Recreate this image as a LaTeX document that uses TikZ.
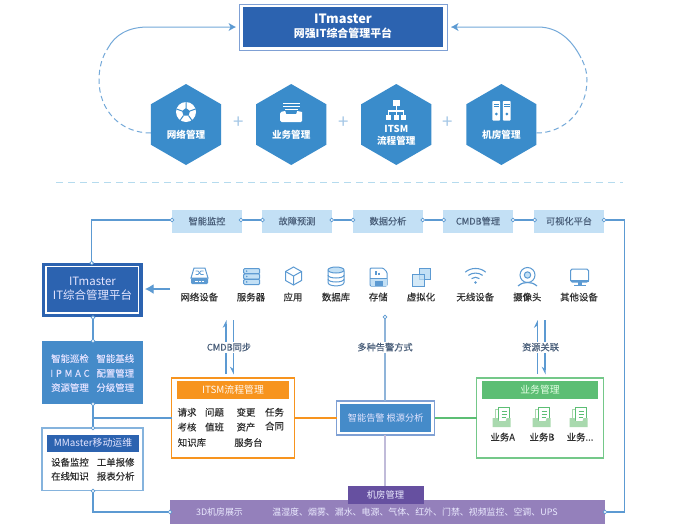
\documentclass[tikz,border=0pt]{standalone}
\usepackage{fontspec}
\setmainfont{Noto Sans CJK SC}
\newfontfamily\medfont[FakeBold=0.2]{Noto Sans CJK SC}
\usetikzlibrary{arrows.meta,shapes.geometric}
\definecolor{deepblue}{HTML}{2C63B0}
\definecolor{midblue}{HTML}{3A8CCB}
\definecolor{boxblue}{HTML}{458BC9}
\definecolor{linkblue}{HTML}{5C9AD2}
\definecolor{softblue}{HTML}{C3E0F5}
\definecolor{dashblue}{HTML}{B5DBEE}
\definecolor{framelight}{HTML}{7FA0D4}
\definecolor{orangeC}{HTML}{F7941E}
\definecolor{greenC}{HTML}{5CBE74}
\definecolor{greenL}{HTML}{A9D9AE}
\definecolor{purpleL}{HTML}{9480BB}
\definecolor{purpleD}{HTML}{6650A0}
\definecolor{lavLine}{HTML}{C0BBD9}
\definecolor{alertLine}{HTML}{8FB4D9}
\definecolor{slateT}{HTML}{4A5F7A}
\definecolor{darkT}{HTML}{2E2E2E}
\tikzset{
  x=0.75pt,y=-0.75pt,
  rbox/.style={rectangle,inner sep=0pt,outer sep=0pt},
  hexa/.style={regular polygon,regular polygon sides=6,shape border rotate=30,minimum size=60.75pt,fill=midblue,inner sep=0pt,outer sep=0pt},
  band/.style={rbox,fill=softblue,minimum width=52.5pt,minimum height=17.25pt,text=slateT,text height=5.6pt,text depth=0.9pt,font=\fontsize{6.9}{8}\medfont},
  hexlabel/.style={text=white,font=\fontsize{7.2}{9}\selectfont\bfseries,align=center,inner sep=0pt},
  devlabel/.style={text=darkT,text height=5.6pt,text depth=0.9pt,font=\fontsize{7.05}{8}\medfont,inner sep=0pt},
  whitelabel/.style={text=white!88!blue,text height=5.6pt,text depth=0.9pt,font=\fontsize{7.05}{8}\medfont,inner sep=0pt},
  edgelabel/.style={text=slateT,text height=5.6pt,text depth=0.9pt,font=\fontsize{6.9}{8}\medfont,fill=white,inner sep=1pt},
  link/.style={draw=linkblue,line width=0.9pt},
  dotc/.style={circle,draw=linkblue,fill=white,line width=0.6pt,minimum size=2.8pt,inner sep=0pt,outer sep=0pt},
  arcline/.style={draw=linkblue!85,line width=0.75pt},
  plusm/.style={text=linkblue!55,font=\fontsize{14}{14}\selectfont,inner sep=0pt},
  harpup/.style={draw=linkblue,line width=0.8pt,-{Stealth[harpoon,length=5pt,width=5pt]}},
  harpdn/.style={draw=linkblue,line width=0.8pt,-{Stealth[harpoon,swap,length=5pt,width=5pt]}},
  ic/.style={draw=linkblue,line width=0.75pt,fill=white},
}
\newcommand{\bizicon}[1]{%
  \begin{scope}[shift={(#1,418)}]
    \draw[draw=greenL,fill=white,line width=0.7pt] (-6,-9) rectangle (6,5);
    \draw[draw=greenC,fill=white,line width=0.7pt] (-3,-11) rectangle (8,5);
    \draw[draw=greenC,line width=0.7pt] (0,-7) -- (5,-7) (0,-4) -- (5,-4) (0,-1) -- (4,-1);
    \fill[greenL] (-9,0) -- (-4,0) -- (-3,3) -- (4,3) -- (5,0) -- (9,0) -- (9,9) -- (-9,9) -- cycle;
  \end{scope}}
\begin{document}
\begin{tikzpicture}
\useasboundingbox (0,0) rectangle (681,525);
\fill[white] (0,0) rectangle (681,525);

% ---------- top part ----------
\node[rbox,draw=framelight,line width=0.7pt,fill=white,minimum width=156pt,minimum height=34.5pt] (topouter) at (343.3,27) {};
\node[rbox,fill=deepblue,minimum width=150.5pt,minimum height=30.2pt] (topinner) at (343,26.9) {};
\node[text=white,font=\fontsize{8.2}{10.5}\selectfont\bfseries,align=center,inner sep=0pt] (toptext) at (343,26) {{\fontsize{9.6}{11}\selectfont ITmaster}\\网强IT综合管理平台};

\node[hexa] (hexA) at (186,124.5) {};
\node[hexa] (hexB) at (291.2,124.5) {};
\node[hexa] (hexC) at (396.3,124.5) {};
\node[hexa] (hexD) at (501.4,124.5) {};
\node[plusm] (plusA) at (238.7,123) {+};
\node[plusm] (plusB) at (344,123) {+};
\node[plusm] (plusC) at (447.7,123) {+};
\node[hexlabel] (hexAt) at (186,134.5) {网络管理};
\node[hexlabel] (hexBt) at (291.2,134.5) {业务管理};
\node[hexlabel] (hexCt) at (396.3,135.5) {ITSM\\流程管理};
\node[hexlabel] (hexDt) at (501.4,134.5) {机房管理};

\coordinate (lstart) at (hexA.west |- 0,133);
\coordinate (lmid) at (99,80);
\coordinate (lbreak) at (108,48);
\coordinate (ltop) at (148,27);
\draw[arcline,dashed,dash pattern=on 4pt off 2.6pt] (lstart) .. controls (120,133) and (99,110) .. (lmid) .. controls (99,68) and (102,57) .. (lbreak);
\draw[arcline] (lbreak) .. controls (115,35) and (128,27) .. (ltop) -- ([xshift=-3pt]topouter.west);
\fill[linkblue] (235.5,27) -- (228.5,23) -- (230.5,27) -- (228.5,31) -- cycle;
\coordinate (rstart) at (hexD.east |- 0,133);
\coordinate (rmid) at (587,80);
\coordinate (rbreak) at (581,58);
\coordinate (rtop) at (538,27);
\draw[arcline,dashed,dash pattern=on 4pt off 2.6pt] (rstart) .. controls (565,133) and (587,110) .. (rmid) .. controls (587,72) and (585,65) .. (rbreak);
\draw[arcline] (rbreak) .. controls (572,40) and (558,27) .. (rtop) -- ([xshift=3pt]topouter.east);
\fill[linkblue] (451.5,27) -- (458.5,23) -- (456.5,27) -- (458.5,31) -- cycle;

% hexagon icons
\begin{scope}[shift={(186,112)}]
  \fill[white] (0,0) circle (10);
  \fill[midblue] (0,-4) -- (4,-1) -- (2.5,3.5) -- (-2.5,3.5) -- (-4,-1) -- cycle;
  \draw[midblue,line width=0.75pt] (0,-4) -- (0,-10) (4,-1) -- (9.5,-3) (2.5,3.5) -- (6,8.5) (-2.5,3.5) -- (-6,8.5) (-4,-1) -- (-9.5,-3);
\end{scope}
\begin{scope}[shift={(291.2,112)}]
  \fill[white] (-8.5,-9.5) rectangle (8.5,-8);
  \fill[white] (-8.5,-6.5) rectangle (8.5,-5);
  \fill[white] (-6.5,-3.5) rectangle (6.5,-2);
  \fill[white] (-11,0) -- (-6,-1) -- (-5,2) -- (5,2) -- (6,-1) -- (11,0) -- (11,9) [rounded corners=1pt] -- (11,10) -- (-11,10) -- cycle;
\end{scope}
\begin{scope}[shift={(396.3,110)}]
  \fill[white] (-3.5,-10) rectangle (3.5,-4);
  \draw[white,line width=0.8pt] (0,-4) -- (0,1) (-7.5,5) -- (-7.5,1) -- (7.5,1) -- (7.5,5) (0,1) -- (0,5);
  \fill[white] (-10,5) rectangle (-5,9.5);
  \fill[white] (-2.7,5) rectangle (2.7,9.5);
  \fill[white] (5,5) rectangle (10,9.5);
\end{scope}
\begin{scope}[shift={(501.4,111)}]
  \foreach \xo in {-9,1.5}{
    \fill[white,rounded corners=0.6pt] (\xo,-10) rectangle ++(7.8,19.5);
    \fill[midblue] (\xo+1.2,-7.5) rectangle ++(5.4,0.9);
    \fill[midblue] (\xo+1.2,-4.8) rectangle ++(5.4,0.9);
    \fill[midblue] (\xo+3.9,3) circle (1.5);
  }
\end{scope}

\draw[draw=dashblue,line width=0.75pt,dash pattern=on 5.5pt off 3.5pt] (56,182) -- (623,182);

% ---------- boxes of the lower part ----------
\node[rbox,fill=deepblue,minimum width=75.75pt,minimum height=40.5pt] (itm) at (92.5,290) {};
\node[rbox,fill=boxblue,minimum width=75.75pt,minimum height=47.25pt] (feat) at (92.5,372.5) {};
\node[rbox,draw=linkblue!75,line width=0.8pt,fill=white,minimum width=75.75pt,minimum height=47pt] (mm) at (92.5,459.3) {};
\node[rbox,draw=orangeC,line width=0.9pt,fill=white,minimum width=92pt,minimum height=60pt] (itsm) at (233,418) {};
\node[rbox,draw=greenC!85,line width=0.9pt,fill=white,minimum width=95pt,minimum height=60pt] (biz) at (540,418) {};
\node[rbox,draw=framelight,line width=0.8pt,fill=white,minimum width=73.5pt,minimum height=25.5pt] (alertO) at (385.7,418) {};
\node[rbox,fill=boxblue,minimum width=68.25pt,minimum height=21pt] (alertI) at (385.7,418) {};
\node[rbox,fill=purpleL,minimum width=326.25pt,minimum height=18pt] (room) at (387.5,512) {};
\node[rbox,fill=purpleD,minimum width=57pt,minimum height=13.5pt] (roomH) at (386,495) {};

\node[band] (bandA) at (207,221.5) {智能监控};
\node[band] (bandB) at (297,221.5) {故障预测};
\node[band] (bandC) at (388,221.5) {数据分析};
\node[band] (bandD) at (478,221.5) {CMDB管理};
\node[band] (bandE) at (569,221.5) {可视化平台};

\node[dotc] (dA1) at (172,220) {};
\node[dotc] (dA2) at (241,220) {};
\node[dotc] (dB1) at (262.5,220) {};
\node[dotc] (dB2) at (331.7,220) {};
\node[dotc] (dC1) at (353,220) {};
\node[dotc] (dC2) at (422.7,220) {};
\node[dotc] (dD1) at (443.7,220) {};
\node[dotc] (dD2) at (513,220) {};
\node[dotc] (dE1) at (534.7,220) {};
\node[dotc] (dE2) at (604,220) {};
\node[dotc] (dI0) at (91.7,263) {};
\node[dotc] (dI1) at (93,317.5) {};
\node[dotc] (dF0) at (93,341) {};
\node[dotc] (dF1) at (93,404) {};
\node[dotc] (dM0) at (93,428) {};
\node[dotc] (dM1) at (93,491) {};
\node[dotc] (dR1) at (170,512) {};
\node[dotc] (dR2) at (605,512) {};
\node[dotc] (dS) at (385,317) {};

\draw[link] (dA1) -- (dA1 -| dI0) -- (dI0);
\draw[link] (dA2) -- (dB1);
\draw[link] (dB2) -- (dC1);
\draw[link] (dC2) -- (dD1);
\draw[link] (dD2) -- (dE1);
\draw[link] (dE2) -- (624.3,220) -- (624.3,512) -- (dR2);
\draw[link] (dI1) -- (dF0);
\draw[link] (dF1) -- (dM0);
\draw[link] (dM1) -- (93,512) -- (dR1);
\draw[link] (93,418) -- (itsm.west);
\draw[draw=orangeC,line width=0.9pt] (itsm.east) -- (alertO.west);
\draw[draw=greenC,line width=0.9pt] (alertO.east) -- (biz.west);
\draw[draw=alertLine,line width=1pt] (dS) -- (alertO.north -| dS);
\draw[draw=lavLine,line width=1pt] (alertO.south -| dS) -- (roomH.north -| dS);

% big arrow into the IT master box
\coordinate (arrS) at (170,289);
\draw[draw=linkblue,line width=0.9pt,-{Latex[length=6.5pt,width=7.5pt]}] (arrS) -- ([xshift=1.5pt]itm.east |- arrS);

% sync arrows
\coordinate (cU0) at (226,374);
\coordinate (cU1) at (226,320);
\coordinate (cD0) at (233.3,320);
\coordinate (cD1) at (233.3,374.5);
\coordinate (rU0) at (537.3,374);
\coordinate (rU1) at (537.3,320);
\coordinate (rD0) at (545,320);
\coordinate (rD1) at (545,374.5);
\draw[harpup] (cU0) -- (cU1);
\draw[harpdn] (cD0) -- (cD1);
\draw[harpup] (rU0) -- (rU1);
\draw[harpdn] (rD0) -- (rD1);
\node[edgelabel] (lblC) at (229,347.5) {CMDB同步};
\node[edgelabel] (lblA) at (385,347.5) {多种告警方式};
\node[edgelabel] (lblR) at (540.5,347.5) {资源关联};

% IT master box
\draw[white,line width=0.8pt] (itm.north west) ++(4,3.5) rectangle ([xshift=-3.5pt,yshift=3pt]itm.south east);
\node[text=white!90!blue,font=\fontsize{8.6}{10.4}\selectfont,align=center,inner sep=0pt] (itmT) at (92.5,289) {ITmaster\\IT综合管理平台};

% devices
\node[devlabel] (l1) at (199.3,297.5) {网络设备};
\node[devlabel] (l2) at (251,297.5) {服务器};
\node[devlabel] (l3) at (293,297.5) {应用};
\node[devlabel] (l4) at (336,297.5) {数据库};
\node[devlabel] (l5) at (378.3,297.5) {存储};
\node[devlabel] (l6) at (421,297.5) {虚拟化};
\node[devlabel] (l7) at (475.3,297.5) {无线设备};
\node[devlabel] (l8) at (527.3,297.5) {摄像头};
\node[devlabel] (l9) at (579,297.5) {其他设备};

% device icons
\begin{scope}[shift={(199.5,276)}]
  \draw[ic] (-5.5,-8) -- (5.5,-8) -- (8.5,2) -- (-8.5,2) -- cycle;
  \fill[linkblue,rounded corners=0.8pt] (-8.5,2) rectangle (8.5,8);
  \draw[linkblue,line width=0.6pt] (-4,-5) -- (-1.5,-5) -- (1.5,-1.5) -- (4,-1.5) (-4,-1.5) -- (-1.5,-1.5) -- (1.5,-5) -- (4,-5);
  \draw[white,line width=0.7pt] (-4.5,5) -- (-2,5) (-1,5) -- (1,5) (2,5) -- (4.5,5);
\end{scope}
\begin{scope}[shift={(251.7,276.5)}]
  \foreach \yo in {-8,-2.6,2.8}{
    \draw[ic,fill=softblue,rounded corners=0.8pt] (-8,\yo) rectangle ++(16,5.2);
    \fill[linkblue] (-5,\yo+2.6) circle (0.9);
  }
\end{scope}
\begin{scope}[shift={(293.5,276)}]
  \draw[ic] (0,-9) -- (8,-4.5) -- (8,4.5) -- (0,9) -- (-8,4.5) -- (-8,-4.5) -- cycle;
  \draw[linkblue,line width=0.75pt] (-8,-4.5) -- (0,0) -- (8,-4.5) (0,0) -- (0,9);
\end{scope}
\begin{scope}[shift={(336,276.5)}]
  \draw[ic] (-8,-6) -- (-8,6) .. controls (-8,10.5) and (8,10.5) .. (8,6) -- (8,-6);
  \draw[ic,fill=softblue] (0,-6.5) ellipse (8 and 3);
  \draw[linkblue,line width=0.75pt] (-8,-1.5) .. controls (-8,2.5) and (8,2.5) .. (8,-1.5);
  \draw[linkblue,line width=0.75pt] (-8,2.5) .. controls (-8,6.5) and (8,6.5) .. (8,2.5);
\end{scope}
\begin{scope}[shift={(378.5,277)}]
  \draw[ic,rounded corners=0.8pt] (-8.5,-9) -- (4.5,-9) -- (8.5,-5) -- (8.5,9) -- (-8.5,9) -- cycle;
  \fill[softblue] (-8,1) rectangle (8,8.5);
  \draw[linkblue,line width=0.75pt] (-8.5,1) -- (8.5,1);
  \fill[linkblue] (-4,4) rectangle (4,9);
  \draw[linkblue,line width=0.8pt] (-2.5,-6) -- (-2.5,-2) (0.5,-4.5) -- (0.5,-2);
\end{scope}
\begin{scope}[shift={(421.5,277)}]
  \draw[ic,fill=softblue] (-2.5,-9) rectangle (9,2.5);
  \draw[ic,fill=softblue,fill opacity=0.7] (-9,-3) rectangle (2.5,9);
\end{scope}
\begin{scope}[shift={(475.5,284)}]
  \fill[linkblue] (0,-1.5) circle (1.3);
  \draw[linkblue,line width=0.8pt] (-3.9,-5.4) .. controls (-1.8,-7.2) and (1.8,-7.2) .. (3.9,-5.4);
  \draw[linkblue,line width=0.8pt] (-7.1,-8.6) .. controls (-3.3,-11.7) and (3.3,-11.7) .. (7.1,-8.6);
  \draw[linkblue,line width=0.8pt] (-10.2,-11.8) .. controls (-5,-16.8) and (5,-16.8) .. (10.2,-11.8);
\end{scope}
\begin{scope}[shift={(527.5,275)}]
  \draw[ic] (0,0) circle (7.5);
  \draw[linkblue,line width=0.75pt,fill=softblue] (0,0) circle (3.2);
  \draw[linkblue,line width=0.9pt] (-9.5,11) .. controls (-6,8) and (-3,7.5) .. (0,7.5) .. controls (3,7.5) and (6,8) .. (9.5,11);
\end{scope}
\begin{scope}[shift={(579.5,277)}]
  \draw[ic,rounded corners=1.2pt] (-9,-8) rectangle (9,5);
  \fill[linkblue] (-9,2.5) rectangle (9,5);
  \fill[linkblue] (-2,5) rectangle (2,8);
  \fill[linkblue] (-6,8) rectangle (6,9.3);
\end{scope}

% feature block
\node[whitelabel] (f1) at (70,359) {智能巡检};
\node[whitelabel] (f2) at (115.3,359) {智能基线};
\node[whitelabel] (f3) at (70,373.7) {\addfontfeature{LetterSpace=30}IPMAC};
\node[whitelabel] (f4) at (115.3,373.7) {配置管理};
\node[whitelabel] (f5) at (70,388) {资源管理};
\node[whitelabel] (f6) at (115.3,388) {分级管理};

% MMaster
\node[rbox,fill=deepblue,minimum width=69pt,minimum height=12.75pt,text=white!90!blue,text height=5.6pt,text depth=0.9pt,font=\fontsize{7.4}{8}\selectfont] (mmH) at (93,443.7) {MMaster移动运维};
\node[devlabel] (m1) at (70,462.7) {设备监控};
\node[devlabel] (m2) at (115.7,462.7) {工单报修};
\node[devlabel] (m3) at (70,476.7) {在线知识};
\node[devlabel] (m4) at (115.7,476.7) {报表分析};

% ITSM
\node[rbox,fill=orangeC,minimum width=84pt,minimum height=13.5pt,text=white!95!orange,text height=5.6pt,text depth=0.9pt,font=\fontsize{7.4}{9}\selectfont] (itsmH) at (233,390) {ITSM流程管理};
\node[devlabel] (s1) at (187,412.7) {请求};
\node[devlabel] (s2) at (214.5,412.7) {问题};
\node[devlabel] (s3) at (246,412.7) {变更};
\node[devlabel] (s4) at (274.5,412.7) {任务};
\node[devlabel] (s5) at (187,427.5) {考核};
\node[devlabel] (s6) at (214.5,427.5) {值班};
\node[devlabel] (s7) at (246,427.5) {资产};
\node[devlabel] (s8) at (274.5,426.5) {合同};
\node[devlabel] (s9) at (192,443) {知识库};
\node[devlabel] (s10) at (248.5,443) {服务台};

% alert
\node[text=white!90!blue,text height=5.6pt,text depth=0.9pt,font=\fontsize{6.9}{8}\selectfont,inner sep=0pt] (alertT) at (385.7,418) {智能告警 根源分析};

% business
\node[rbox,fill=greenC,minimum width=87pt,minimum height=13.5pt,text=white!90!green,text height=5.6pt,text depth=0.9pt,font=\fontsize{7.4}{9}\selectfont] (bizH) at (540,390) {业务管理};
\bizicon{501.7}
\bizicon{541.7}
\bizicon{578.5}
\node[devlabel] (b1) at (502.7,437.5) {业务A};
\node[devlabel] (b2) at (542,437.5) {业务B};
\node[devlabel] (b3) at (580,437.5) {业务...};

% room
\node[text=white!92!blue,text height=5.6pt,text depth=0.9pt,font=\fontsize{7}{8}\selectfont,inner sep=0pt] (roomHT) at (385.5,495) {机房管理};
\node[text=white!92!blue,text height=5.6pt,text depth=0.9pt,font=\fontsize{6.7}{8}\selectfont,inner sep=0pt] (roomA) at (219.5,512) {3D机房展示};
\node[text=white!92!blue,text height=5.6pt,text depth=0.9pt,font=\fontsize{6.7}{8}\selectfont,inner sep=0pt] (roomB) at (415,512) {温湿度、烟雾、漏水、电源、气体、红外、门禁、视频监控、空调、UPS};
\end{tikzpicture}
\end{document}
